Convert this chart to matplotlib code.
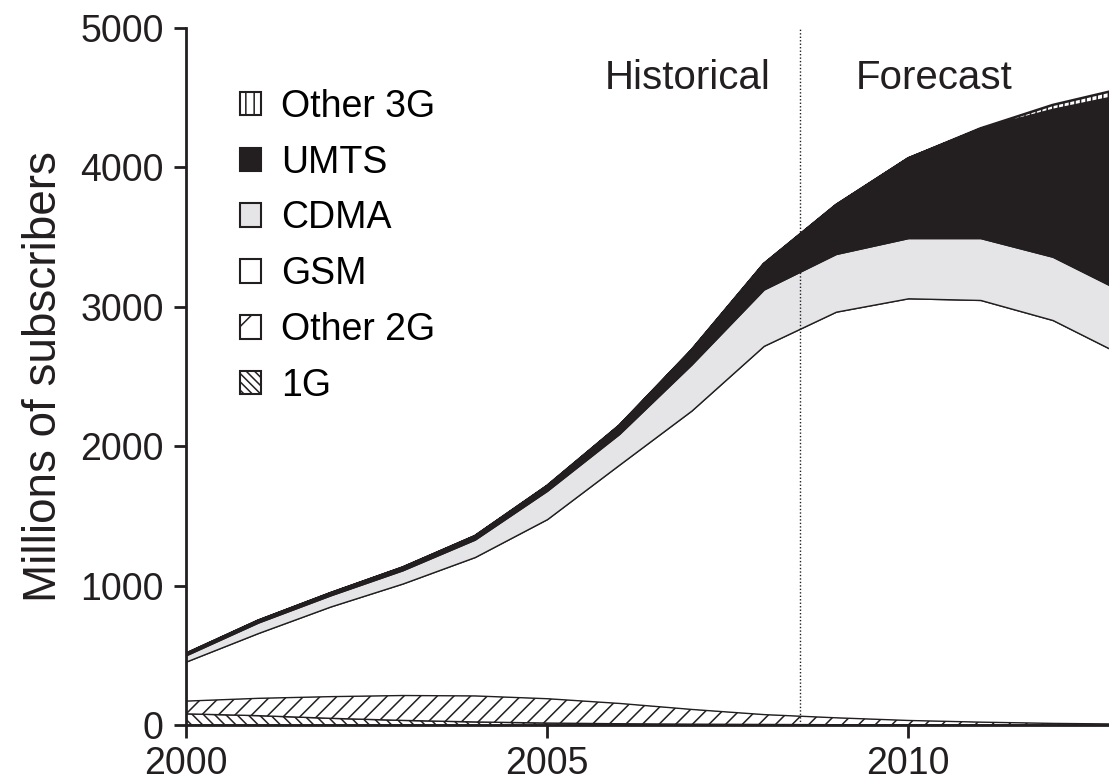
import matplotlib.pyplot as plt
import numpy as np
from matplotlib.patches import Patch

plt.rcParams["font.family"] = ["Liberation Sans", "DejaVu Sans"]
plt.rcParams["hatch.linewidth"] = 1.1

INK = "#231f20"

years = [2000, 2001, 2002, 2003, 2004, 2005, 2006, 2007, 2008, 2009, 2010, 2011, 2012, 2013]

# millions of subscribers per technology, bottom of the stack first
first_gen = [80, 67, 48, 33, 22, 14, 9, 6, 4, 2, 1, 1, 0, 0]
other_2g = [95, 128, 159, 182, 190, 178, 149, 109, 74, 53, 35, 23, 15, 10]
gsm = [280, 465, 643, 800, 993, 1285, 1710, 2141, 2642, 2910, 3025, 3025, 2890, 2635]
cdma = [45, 75, 80, 95, 125, 203, 220, 330, 404, 414, 432, 444, 454, 455]
umts = [12, 14, 16, 20, 25, 35, 60, 103, 183, 351, 572, 782, 1053, 1420]
other_3g = [0, 0, 0, 0, 0, 0, 0, 0, 0, 0, 0, 5, 36, 50]

labels = ["1G", "Other 2G", "GSM", "CDMA", "UMTS", "Other 3G"]
fills = ["white", "white", "white", "#e5e5e7", INK, "white"]
hatches = ["\\\\\\", "//", None, None, None, "|||"]
legend_hatches = ["\\\\\\\\", "/", None, None, None, "||"]

split_year = 2008.5

fig = plt.figure(figsize=(11.09, 7.82), dpi=100)
ax = fig.add_axes([0.1677, 0.0729, 0.8323, 0.8913])

layers = ax.stackplot(years, first_gen, other_2g, gsm, cdma, umts, other_3g,
                      colors=fills, edgecolor=INK, linewidth=1.0)
for poly, hatch in zip(layers, hatches):
    if hatch:
        poly.set_hatch(hatch)
layers[-1].set_linewidth(1.8)

ax.axvline(split_year, color=INK, linestyle=(0, (1, 1.5)), linewidth=1.0, zorder=5)
ax.text(2008.09, 4565, "Historical", ha="right", va="baseline", fontsize=29, color=INK)
ax.text(2009.27, 4565, "Forecast", ha="left", va="baseline", fontsize=29, color=INK)

ax.set_xlim(2000, 2012.78)
ax.set_ylim(0, 5000)
ax.set_xticks([2000, 2005, 2010])
ax.set_yticks(np.arange(0, 5001, 1000))
ax.tick_params(direction="out", length=9, width=2, colors=INK, labelsize=27)
ax.tick_params(axis="x", pad=6)
ax.tick_params(axis="y", pad=7)
ax.set_ylabel("Millions of subscribers", fontsize=33, color=INK, labelpad=10)

for side in ["top", "right"]:
    ax.spines[side].set_visible(False)
for side in ["left", "bottom"]:
    ax.spines[side].set_linewidth(2)
    ax.spines[side].set_color(INK)

handles = [
    Patch(facecolor=fc, edgecolor=INK, hatch=h, linewidth=1.5, label=lab)
    for lab, fc, h in zip(labels, fills, legend_hatches)
][::-1]
ax.legend(handles=handles, loc="upper left", bbox_to_anchor=(0.058, 0.913), frameon=False,
          fontsize=27, handlelength=0.58, handleheight=0.58, handletextpad=0.53,
          labelspacing=0.53, borderpad=0, borderaxespad=0)

fig.savefig("out.png", dpi=100)
